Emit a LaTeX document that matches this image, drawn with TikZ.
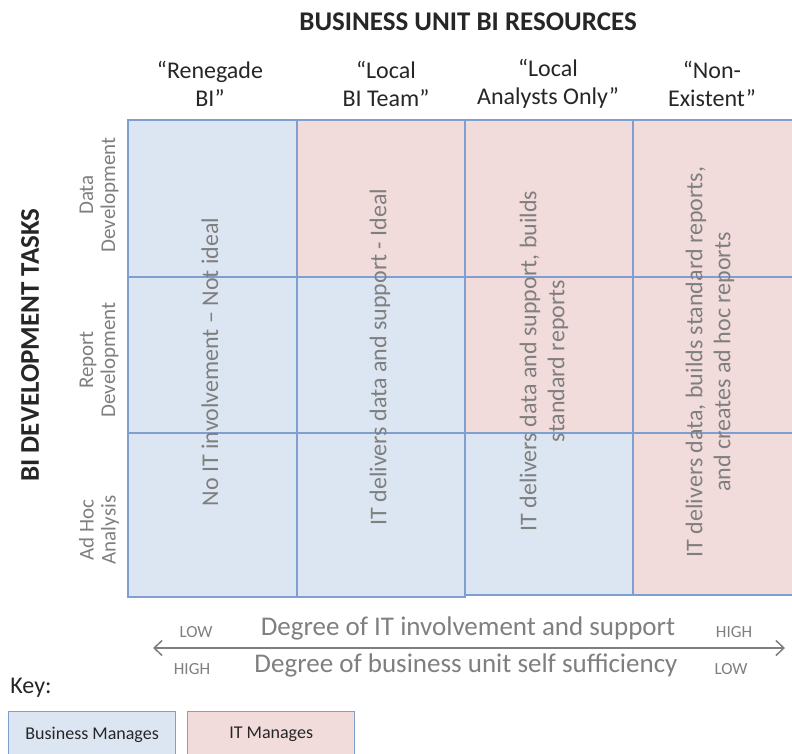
\documentclass[tikz,border=0pt]{standalone}
\usepackage{fontspec}
\setmainfont{Carlito}
\usetikzlibrary{arrows.meta}

\definecolor{bizblue}{HTML}{DCE6F2}
\definecolor{itpink}{HTML}{F2DCDB}
\definecolor{gridline}{HTML}{7F9FD0}
\definecolor{labelgray}{HTML}{7F7F7F}

\begin{document}
\begin{tikzpicture}[x=1pt,y=-1pt,
    biz/.style={fill=bizblue,draw=gridline,line width=1.3pt},
    it/.style={fill=itpink,draw=gridline,line width=1.3pt},
    heading/.style={font=\fontsize{27}{32}\selectfont\bfseries,text=black!85},
    colhead/.style={align=center,font=\fontsize{24}{28}\selectfont,text=black!85},
    rowhead/.style={align=center,rotate=90,font=\fontsize{21}{22}\selectfont,text=labelgray},
    celltext/.style={align=center,rotate=90,font=\fontsize{24}{28}\selectfont,text=labelgray},
    axislabel/.style={font=\fontsize{27}{30}\selectfont,text=labelgray},
    endlabel/.style={font=\fontsize{17}{19}\selectfont,text=labelgray},
    keybox/.style={minimum width=167pt,minimum height=46pt,anchor=north west,
        font=\fontsize{18}{20}\selectfont,text=black!85}]
    \useasboundingbox (0,0) rectangle (792,753);

    % titles
    \node[heading] (resources) at (468,22) {BUSINESS UNIT BI RESOURCES};
    \node[heading,rotate=90] (tasks) at (30,345) {BI DEVELOPMENT TASKS};

    % grid of cells: who manages what
    \foreach \xa/\xb/\ya/\yb/\kind in {
        128/297/120/277/biz, 128/297/277/433/biz, 128/297/433/597/biz,
        297/465/120/277/it,  297/465/277/433/biz, 297/465/433/597/biz,
        465/633/120/277/it,  465/633/277/433/it,  465/633/433/595/biz,
        633/800/120/277/it,  633/800/277/433/it,  633/800/433/595/it}
        \draw[\kind] (\xa,\ya) rectangle (\xb,\yb);

    % column headings
    \node[colhead] (renegade) at (210,84) {“Renegade\\BI”};
    \node[colhead] (localteam) at (386,84) {“Local\\BI Team”};
    \node[colhead] (analysts) at (548,84) {“Local\\Analysts Only”};
    \node[colhead] (nonexist) at (712,84) {“Non-\\Existent”};

    % row headings
    \node[rowhead] (datadev) at (99,195) {Data\\Development};
    \node[rowhead] (reportdev) at (99,360) {Report\\Development};
    \node[rowhead] (adhoc) at (99,530) {Ad Hoc\\Analysis};

    % cell texts
    \node[celltext] (txtone) at (210,362) {No IT involvement – Not ideal};
    \node[celltext] (txttwo) at (380,357) {IT delivers data and support - Ideal};
    \node[celltext] (txtthree) at (544,361) {IT delivers data and support, builds\\standard reports};
    \node[celltext] (txtfour) at (710,362) {IT delivers data, builds standard reports,\\and creates ad hoc reports};

    % axis
    \coordinate (lowend) at (153,648);
    \coordinate (highend) at (785,648);
    \draw[labelgray,line width=1.3pt,
        {Straight Barb[length=8pt,width=15pt,line width=1.5pt]}-{Straight Barb[length=8pt,width=15pt,line width=1.5pt]}]
        (lowend) -- (highend);
    \node[axislabel] (itdeg) at (468,628) {Degree of IT involvement and support};
    \node[axislabel] (bizdeg) at (466,665) {Degree of business unit self sufficiency};
    \node[endlabel] (itlow) at (196,632) {LOW};
    \node[endlabel] (ithigh) at (734,632) {HIGH};
    \node[endlabel] (bizhigh) at (192,669) {HIGH};
    \node[endlabel] (bizlow) at (731,669) {LOW};

    % key
    \node[font=\fontsize{24}{26}\selectfont,text=black!85] (key) at (31,688) {Key:};
    \node[keybox,biz] (keybiz) at (8,711) {Business Manages};
    \node[keybox,it] (keyit) at (187,711) {IT Manages};
\end{tikzpicture}
\end{document}
